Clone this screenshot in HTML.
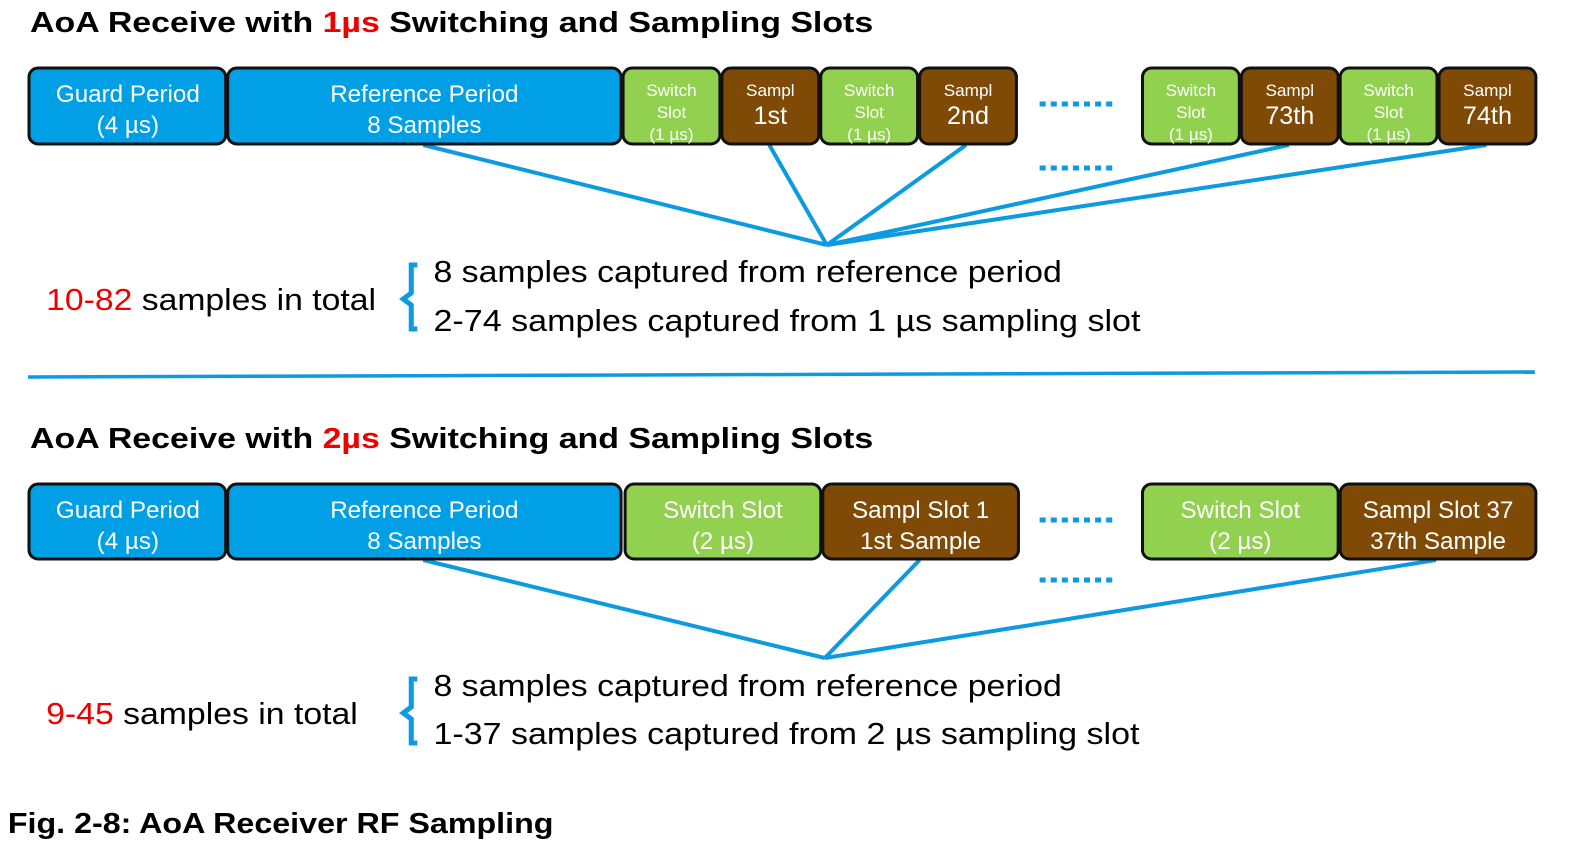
<!DOCTYPE html>
<html><head><meta charset="utf-8"><style>
html,body{margin:0;padding:0;background:#fff;}
svg{display:block;font-family:"Liberation Sans",Arial,sans-serif;}
</style></head><body>
<svg width="1580" height="862" viewBox="0 0 1580 862" xmlns="http://www.w3.org/2000/svg">
<g transform="translate(28,0) scale(1.0086,1) translate(-28,0)">
<g font-weight="bold" font-size="29" fill="#000">
<text x="30" y="32" textLength="836" lengthAdjust="spacingAndGlyphs">AoA Receive with <tspan fill="#e00">1µs</tspan> Switching and Sampling Slots</text>
<text x="30" y="448" textLength="836" lengthAdjust="spacingAndGlyphs">AoA Receive with <tspan fill="#e00">2µs</tspan> Switching and Sampling Slots</text>
<text x="8" y="833" textLength="541" lengthAdjust="spacingAndGlyphs">Fig. 2-8: AoA Receiver RF Sampling</text>
</g>
<g stroke="#0c9ae0" stroke-width="4" fill="none">
<line x1="420" y1="145" x2="820" y2="245"/>
<line x1="763" y1="145" x2="820" y2="245"/>
<line x1="958" y1="145" x2="820" y2="245"/>
<line x1="1278" y1="145" x2="820" y2="245"/>
<line x1="1474" y1="145" x2="820" y2="245"/>
<line x1="420" y1="560" x2="818" y2="658"/>
<line x1="912" y1="560" x2="818" y2="658"/>
<line x1="1424" y1="560" x2="818" y2="658"/>
<line x1="28" y1="377" x2="1522" y2="372" stroke-width="3.5"/>
<g stroke-width="5" stroke-dasharray="6 5">
<line x1="1031" y1="104" x2="1104" y2="104"/>
<line x1="1031" y1="168" x2="1104" y2="168"/>
<line x1="1031" y1="520" x2="1104" y2="520"/>
<line x1="1031" y1="580" x2="1104" y2="580"/>
</g>
<path d="M414,265 h-6 v28 l-8,6 l8,6 v24 h6" stroke-width="5"/>
<path d="M414,679 h-6 v28 l-8,6 l8,6 v24 h6" stroke-width="5"/>
</g>
<g stroke="#111" stroke-width="3">
<rect x="29" y="68" width="195" height="76" rx="9" fill="#009fe6"/>
<rect x="226" y="68" width="390" height="76" rx="9" fill="#009fe6"/>
<rect x="618" y="68" width="96" height="76" rx="9" fill="#92d050"/>
<rect x="716" y="68" width="96" height="76" rx="9" fill="#7f4a06"/>
<rect x="814" y="68" width="96" height="76" rx="9" fill="#92d050"/>
<rect x="912" y="68" width="96" height="76" rx="9" fill="#7f4a06"/>
<rect x="1133" y="68" width="96" height="76" rx="9" fill="#92d050"/>
<rect x="1231" y="68" width="96" height="76" rx="9" fill="#7f4a06"/>
<rect x="1329" y="68" width="96" height="76" rx="9" fill="#92d050"/>
<rect x="1427" y="68" width="96" height="76" rx="9" fill="#7f4a06"/>
<rect x="29" y="484" width="195" height="75" rx="9" fill="#009fe6"/>
<rect x="226" y="484" width="390" height="75" rx="9" fill="#009fe6"/>
<rect x="620" y="484" width="194" height="75" rx="9" fill="#92d050"/>
<rect x="816" y="484" width="194" height="75" rx="9" fill="#7f4a06"/>
<rect x="1133" y="484" width="194" height="75" rx="9" fill="#92d050"/>
<rect x="1329" y="484" width="194" height="75" rx="9" fill="#7f4a06"/>
</g>
<g fill="#fff" text-anchor="middle" font-size="24">
<text x="127" y="102">Guard Period</text><text x="127" y="133">(4 µs)</text>
<text x="421" y="102">Reference Period</text><text x="421" y="133">8 Samples</text>
<text x="127" y="518">Guard Period</text><text x="127" y="549">(4 µs)</text>
<text x="421" y="518">Reference Period</text><text x="421" y="549">8 Samples</text>
<text x="717" y="518">Switch Slot</text><text x="717" y="549">(2 µs)</text>
<text x="913" y="518">Sampl Slot 1</text><text x="913" y="549">1st Sample</text>
<text x="1230" y="518">Switch Slot</text><text x="1230" y="549">(2 µs)</text>
<text x="1426" y="518">Sampl Slot 37</text><text x="1426" y="549">37th Sample</text>
<g font-size="17">
<text x="666" y="96">Switch</text><text x="666" y="118">Slot</text><text x="666" y="140">(1 µs)</text>
<text x="862" y="96">Switch</text><text x="862" y="118">Slot</text><text x="862" y="140">(1 µs)</text>
<text x="1181" y="96">Switch</text><text x="1181" y="118">Slot</text><text x="1181" y="140">(1 µs)</text>
<text x="1377" y="96">Switch</text><text x="1377" y="118">Slot</text><text x="1377" y="140">(1 µs)</text>
<text x="764" y="96">Sampl</text><text x="960" y="96">Sampl</text><text x="1279" y="96">Sampl</text><text x="1475" y="96">Sampl</text>
</g>
<g font-size="25">
<text x="764" y="124">1st</text><text x="960" y="124">2nd</text><text x="1279" y="124">73th</text><text x="1475" y="124">74th</text>
</g>
</g>
<g font-size="31" fill="#000">
<text x="46" y="310" textLength="327" lengthAdjust="spacingAndGlyphs"><tspan fill="#e00">10-82</tspan> samples in total</text>
<text x="430" y="282" textLength="623" lengthAdjust="spacingAndGlyphs">8 samples captured from reference period</text>
<text x="430" y="331" textLength="701" lengthAdjust="spacingAndGlyphs">2-74 samples captured from 1 µs sampling slot</text>
<text x="46" y="724" textLength="309" lengthAdjust="spacingAndGlyphs"><tspan fill="#e00">9-45</tspan> samples in total</text>
<text x="430" y="696" textLength="623" lengthAdjust="spacingAndGlyphs">8 samples captured from reference period</text>
<text x="430" y="744" textLength="700" lengthAdjust="spacingAndGlyphs">1-37 samples captured from 2 µs sampling slot</text>
</g>
</g>
</svg>
</body></html>
